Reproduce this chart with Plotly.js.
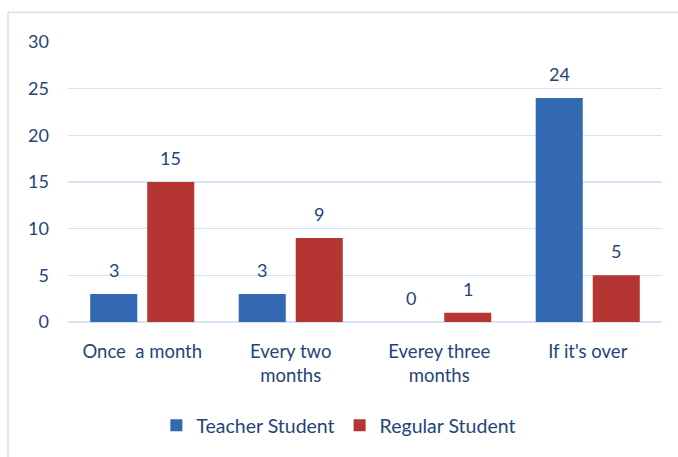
<!DOCTYPE html>
<html>
<head>
<meta charset="utf-8">
<script src="https://cdn.plot.ly/plotly-3.0.1.min.js"></script>
<style>
  html, body { margin: 0; padding: 0; background: #ffffff; }
  #chart { width: 678px; height: 457px; }
</style>
</head>
<body>
<div id="chart"></div>
<script>
const categories = ["Once  a month", "Every two<br>months", "Everey three<br>months", "If it's over"];
const teacherStudent = [3, 3, 0, 24];
const regularStudent = [15, 9, 1, 5];
const seriesNames = ["Teacher Student", "Regular Student"];
const yTicks = [0, 5, 10, 15, 20, 25, 30];

const textColor = "#264478";
const font = "Lato, 'Open Sans', sans-serif";

const traces = [
  {
    type: "bar", name: seriesNames[0], x: categories, y: teacherStudent,
    marker: { color: "#3369b3" }, hoverinfo: "skip"
  },
  {
    type: "bar", name: seriesNames[1], x: categories, y: regularStudent,
    marker: { color: "#b53533" }, hoverinfo: "skip"
  }
];

const annotations = [];
categories.forEach((c, i) => {
  annotations.push({ x: c, y: teacherStudent[i], xref: "x", yref: "y", text: String(teacherStudent[i]),
    showarrow: false, xshift: -28.5, yshift: 24, yanchor: "middle",
    font: { family: font, size: 18, color: textColor } });
  annotations.push({ x: c, y: regularStudent[i], xref: "x", yref: "y", text: String(regularStudent[i]),
    showarrow: false, xshift: 28.5, yshift: 24, yanchor: "middle",
    font: { family: font, size: 18, color: textColor } });
});

const layout = {
  width: 678, height: 457,
  margin: { l: 68, r: 16, t: 42, b: 132 },
  paper_bgcolor: "#ffffff", plot_bgcolor: "#ffffff",
  font: { family: font, size: 18, color: textColor },
  barmode: "group", bargap: 0.232, bargroupgap: 0.175,
  showlegend: true,
  legend: {
    orientation: "h", x: 0.456, xanchor: "center", y: -0.37, yanchor: "middle",
    font: { family: font, size: 19.5, color: textColor }, itemwidth: 30,
    tracegroupgap: 0
  },
  xaxis: {
    type: "category", showgrid: false, zeroline: false, showline: false,
    ticks: "", ticklabelstandoff: 16,
    tickfont: { family: font, size: 18.5, color: textColor }
  },
  yaxis: {
    range: [0, 30], tickvals: yTicks, showgrid: true, gridcolor: "#d6e2f1", gridwidth: 1.5,
    zeroline: true, zerolinecolor: "#d6e2f1", zerolinewidth: 2, showline: false,
    ticks: "", ticklabelstandoff: 18,
    tickfont: { family: font, size: 18, color: textColor }
  },
  annotations: annotations,
  shapes: [
    { type: "line", xref: "paper", yref: "paper", x0: -0.101, x1: -0.101, y0: 1.106, y1: -0.6,
      line: { color: "#d6e2f1", width: 1.5 } },
    { type: "line", xref: "paper", yref: "paper", x0: -0.101, x1: 1.1, y0: 1.106, y1: 1.106,
      line: { color: "#d6e2f1", width: 1.5 } }
  ]
};

Plotly.newPlot("chart", traces, layout, { displayModeBar: false, staticPlot: true });
</script>
</body>
</html>
